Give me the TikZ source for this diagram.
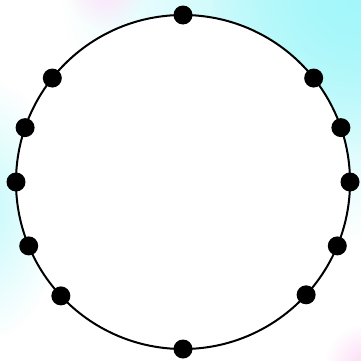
\documentclass[tikz,border=0pt]{standalone}
\usepackage{xcolor}
\usepackage{tikz}
\usetikzlibrary{calc, fadings}
\definecolor{mycyan}{rgb}{0.64, 0.97, 0.98}
\definecolor{mypink}{rgb}{0.99, 0.85, 0.97}
\tikzfading[name=softfade, inner color=transparent!0, outer color=transparent!100]
\tikzstyle{dot} = [circle, fill=black, inner sep=0pt, minimum size=19pt]
\tikzstyle{blob} = [path fading=softfade, fit fading=true]
\tikzstyle{ring} = [line width=2pt, draw=black, fill=white]

\begin{document}
\begin{tikzpicture}[x=1pt, y=1pt]
    % background
    \fill[white] (0,0) rectangle (361,360);
    \begin{scope}
        \clip (0,0) rectangle (361,360);
        \fill[mycyan, blob] (361,380) ellipse[x radius=300, y radius=260];
        \fill[mycyan, blob] (361,360) ellipse[x radius=150, y radius=150];
        \fill[mycyan!60, blob] (-10,150) ellipse[x radius=70, y radius=130];
        \fill[mypink!70, blob] (105,370) circle[radius=40];
        \fill[mypink, blob] (365,-5) circle[radius=40];
    \end{scope}
    \coordinate (c) at (183,178);
    \draw[ring] (c) circle[radius=167];
    % dots on the ring
    \foreach \a [count=\i] in {90, 38.5, 19, 0, -22.5, -42.5, -90, -137, -157.5, 180, 161, 141.5}
        \node[dot] (d\i) at ($(c)+(\a:167)$) {};
\end{tikzpicture}
\end{document}
